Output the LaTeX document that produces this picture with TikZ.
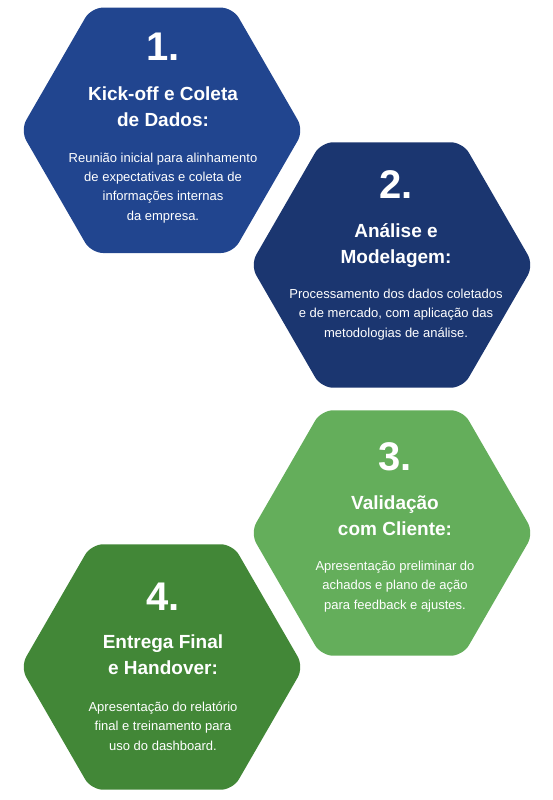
\documentclass[tikz,border=0pt]{standalone}
\usepackage{fontspec}
\setmainfont{Liberation Sans}
\usetikzlibrary{shapes.geometric}
\definecolor{hexone}{HTML}{21458F}
\definecolor{hextwo}{HTML}{1B3670}
\definecolor{hexthree}{HTML}{64AE5B}
\definecolor{hexfour}{HTML}{428737}
\begin{document}
\begin{tikzpicture}[x=1pt,y=-1pt,
  hexa/.style={regular polygon, regular polygon sides=6, minimum size=283.4pt,
    inner sep=0pt, outer sep=0pt, rounded corners=12pt, draw=none},
  num/.style={anchor=base, text=white, inner sep=0pt,
    font=\fontsize{40}{40}\selectfont\bfseries},
  ttl/.style={anchor=base, text=white, align=center, inner sep=0pt,
    font=\fontsize{19}{25.7}\selectfont\bfseries},
  body/.style={anchor=base, text=white, align=center, inner sep=0pt,
    font=\fontsize{13}{19.2}\selectfont}]
\useasboundingbox (0,0) rectangle (552,800);

\node[hexa, fill=hexone]   (h1) at (162,130.3) {};
\node[hexa, fill=hextwo]   (h2) at (392,265) {};
\node[hexa, fill=hexthree] (h3) at (392,533) {};
\node[hexa, fill=hexfour]  (h4) at (162,667) {};

\node[num]  (n1) at (163,60) {1.};
\node[ttl]  (t1) at (163,126) {Kick-off e Coleta\\de Dados:};
\node[body] (b1) at (163,220) {Reunião inicial para alinhamento\\de expectativas e coleta de\\informações internas\\da empresa.};

\node[num]  (n2) at (396,198) {2.};
\node[ttl]  (t2) at (396,263) {Análise e\\Modelagem:};
\node[body] (b2) at (396,337) {Processamento dos dados coletados\\e de mercado, com aplicação das\\metodologias de análise.};

\node[num]  (n3) at (395,470) {3.};
\node[ttl]  (t3) at (395,535) {Validação\\com Cliente:};
\node[body] (b3) at (395,609) {Apresentação preliminar do\\achados e plano de ação\\para feedback e ajustes.};

\node[num]  (n4) at (163,610) {4.};
\node[ttl]  (t4) at (163,674) {Entrega Final\\e Handover:};
\node[body] (b4) at (163,750) {Apresentação do relatório\\final e treinamento para\\uso do dashboard.};
\end{tikzpicture}
\end{document}
